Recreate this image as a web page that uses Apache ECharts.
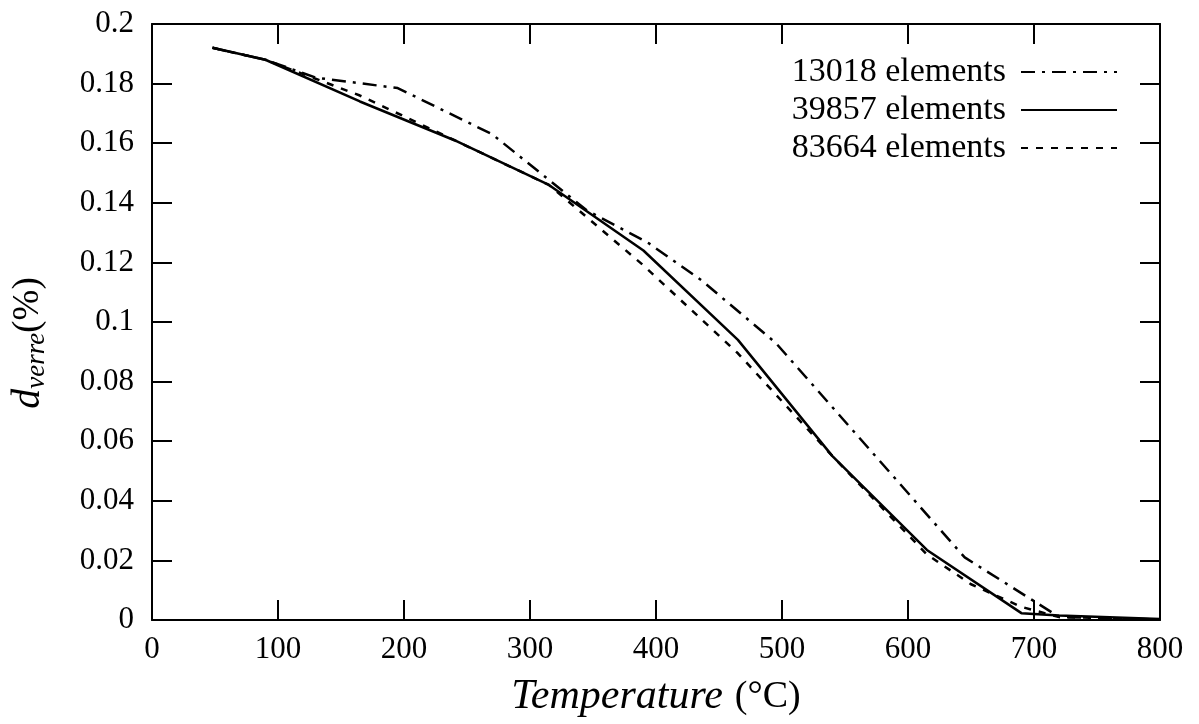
<!DOCTYPE html>
<html>
<head>
<meta charset="utf-8">
<script src="https://cdn.jsdelivr.net/npm/echarts@6/dist/echarts.min.js"></script>
<style>
  html, body { margin: 0; padding: 0; background: #fff; }
  #chart { width: 1199px; height: 724px; }
</style>
</head>
<body>
<div id="chart"></div>
<script>
// values
const seriesNames = ['13018 elements', '39857 elements', '83664 elements'];

const temp13018 = [48, 90, 130, 195, 270, 345, 394, 436, 495, 570, 645, 720, 800];
const d13018 = [0.192, 0.188, 0.182, 0.1785, 0.163, 0.1375, 0.1265, 0.114, 0.093, 0.057, 0.021, 0.001, 0.0002];

const temp39857 = [48, 90, 165, 240, 315, 390, 465, 540, 615, 690, 720, 800];
const d39857 = [0.192, 0.188, 0.174, 0.161, 0.146, 0.124, 0.094, 0.055, 0.0235, 0.0023, 0.0015, 0.0003];

const temp83664 = [48, 90, 165, 240, 315, 390, 465, 540, 615, 650, 690, 720, 800];
const d83664 = [0.192, 0.188, 0.176, 0.161, 0.146, 0.119, 0.0895, 0.055, 0.022, 0.012, 0.0044, 0.001, 0.0002];

const xTicks = [0, 100, 200, 300, 400, 500, 600, 700, 800];
const yTicks = [0, 0.02, 0.04, 0.06, 0.08, 0.1, 0.12, 0.14, 0.16, 0.18, 0.2];

const pairs = (xs, ys) => xs.map((x, i) => [x, ys[i]]);

const FONT = '"Liberation Serif", "DejaVu Serif", serif';
const lineTypes = [[14, 7, 3, 7], 'solid', [7, 8]];
const dataSets = [pairs(temp13018, d13018), pairs(temp39857, d39857), pairs(temp83664, d83664)];

const chart = echarts.init(document.getElementById('chart'));

const tickStyle = { inside: true, length: 20, lineStyle: { color: '#000', width: 2 } };
const axisLine = { show: true, onZero: false, lineStyle: { color: '#000', width: 2 } };

const baseX = {
    type: 'value',
    min: xTicks[0],
    max: xTicks[xTicks.length - 1],
    interval: 100,
    axisLine: axisLine,
    axisTick: tickStyle,
    splitLine: { show: false }
};
const baseY = {
    type: 'value',
    min: yTicks[0],
    max: yTicks[yTicks.length - 1],
    interval: 0.02,
    axisLine: axisLine,
    axisTick: tickStyle,
    splitLine: { show: false }
};

const option = {
    backgroundColor: '#fff',
    animation: false,
    grid: { left: 149, right: 39, top: 24, bottom: 104 },
    legend: {
        orient: 'vertical',
        right: 76,
        top: 50,
        align: 'right',
        itemWidth: 96,
        itemHeight: 20,
        itemGap: 4,
        data: seriesNames,
        itemStyle: { opacity: 0 },
        textStyle: { fontFamily: FONT, fontSize: 34, color: '#000', padding: [0, 10, 0, 0] }
    },
    xAxis: [
        Object.assign({}, baseX, {
            position: 'bottom',
            name: '{it|Temperature}{n|(°C)}',
            nameLocation: 'middle',
            nameGap: 56,
            nameTextStyle: {
                rich: {
                    it: { fontFamily: FONT, fontStyle: 'italic', fontSize: 42, color: '#000' },
                    n: { fontFamily: FONT, fontSize: 38, color: '#000', padding: [0, 0, 0, 12] }
                }
            },
            axisLabel: { margin: 14, fontFamily: FONT, fontSize: 31, color: '#000' }
        }),
        Object.assign({}, baseX, { position: 'top', axisLabel: { show: false } })
    ],
    yAxis: [
        Object.assign({}, baseY, {
            position: 'left',
            name: '{d|d}{s|verre}{n|(%)}',
            nameLocation: 'middle',
            nameRotate: 90,
            nameGap: 102,
            nameTextStyle: {
                padding: [0, 42, 0, 0],
                rich: {
                    d: { fontFamily: FONT, fontStyle: 'italic', fontSize: 40, color: '#000', lineHeight: 44 },
                    s: { fontFamily: FONT, fontStyle: 'italic', fontSize: 27, color: '#000', lineHeight: 44, verticalAlign: 'bottom', padding: [14, 0, 0, 0] },
                    n: { fontFamily: FONT, fontSize: 37, color: '#000', lineHeight: 44 }
                }
            },
            axisLabel: { margin: 18, fontFamily: FONT, fontSize: 31, color: '#000' }
        }),
        Object.assign({}, baseY, { position: 'right', axisLabel: { show: false } })
    ],
    series: seriesNames.map((name, i) => ({
        name: name,
        type: 'line',
        symbol: 'none',
        data: dataSets[i],
        lineStyle: { color: '#000', width: 2.5, type: lineTypes[i] },
        itemStyle: { color: '#000' }
    }))
};

chart.setOption(option);
</script>
</body>
</html>
